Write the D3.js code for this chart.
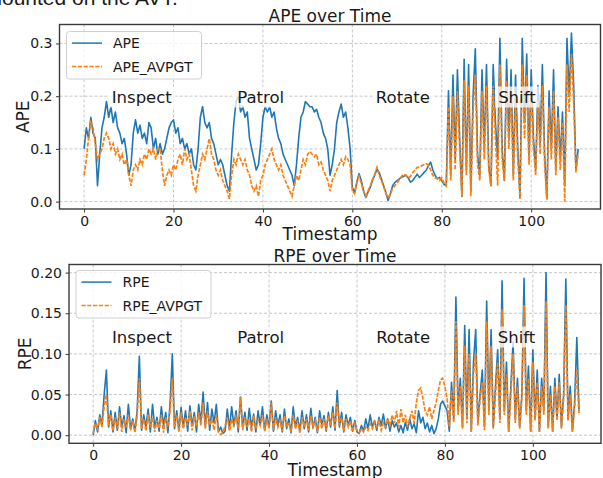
<!DOCTYPE html>
<meta charset="utf-8">
<style>
  body { margin: 0; background: #fff; }
  svg text { font-family: "DejaVu Sans", sans-serif; fill: #1a1a1a; }
</style>
<body>

<div id="chart"></div>

<script src="https://d3js.org/d3.v7.min.js"></script>

<script>

// ---- data (one sample every 0.5 s) ----
var timestamps = d3.range(0, 110.51, 0.5);

var ape = [
  0.10, 0.14, 0.12, 0.16, 0.13, 0.12, 0.03, 0.09, 0.14, 0.16,
  0.19, 0.16, 0.18, 0.15, 0.17, 0.14, 0.13, 0.11, 0.12, 0.09,
  0.05, 0.07, 0.13, 0.155, 0.13, 0.145, 0.12, 0.13, 0.11, 0.15,
  0.14, 0.10, 0.12, 0.09, 0.11, 0.09, 0.10, 0.12, 0.14, 0.15,
  0.155, 0.13, 0.14, 0.11, 0.12, 0.10, 0.11, 0.09, 0.10, 0.07,
  0.06, 0.10, 0.16, 0.18, 0.15, 0.14, 0.15, 0.12, 0.11, 0.09,
  0.07, 0.08, 0.07, 0.05, 0.03, 0.02, 0.09, 0.15, 0.19, 0.20,
  0.17, 0.18, 0.16, 0.17, 0.12, 0.10, 0.08, 0.06, 0.07, 0.11,
  0.16, 0.18, 0.17, 0.18, 0.16, 0.17, 0.14, 0.12, 0.11, 0.09,
  0.08, 0.07, 0.06, 0.05, 0.03, 0.07, 0.12, 0.16, 0.17, 0.19,
  0.185, 0.18, 0.18, 0.17, 0.175, 0.16, 0.15, 0.13, 0.12, 0.10,
  0.05, 0.07, 0.10, 0.15, 0.17, 0.185, 0.16, 0.17, 0.14, 0.10,
  0.027, 0.017, 0.037, 0.053, 0.04, 0.02, 0.008, 0.018, 0.027, 0.04,
  0.05, 0.062, 0.055, 0.043, 0.03, 0.017, 0.002, 0.015, 0.03, 0.036,
  0.04, 0.043, 0.046, 0.048, 0.05, 0.045, 0.037, 0.04, 0.046, 0.052,
  0.046, 0.05, 0.055, 0.059, 0.068, 0.075, 0.06, 0.05, 0.043, 0.046,
  0.04, 0.033, 0.03, 0.21, 0.05, 0.24, 0.08, 0.25, 0.12, 0.01,
  0.27, 0.06, 0.26, 0.02, 0.20, 0.29, 0.09, 0.05, 0.25, 0.10,
  0.26, 0.07, 0.03, 0.26, 0.15, 0.08, 0.31, 0.10, 0.04, 0.27,
  0.12, 0.25, 0.05, 0.24, 0.10, 0.01, 0.31, 0.15, 0.28, 0.08,
  0.25, 0.12, 0.06, 0.22, 0.11, 0.26, 0.09, 0.005, 0.21, 0.10,
  0.25, 0.06, 0.18, 0.08, 0.17, 0.03, 0.31, 0.20, 0.32, 0.22,
  0.06, 0.10
];

var apeAvpgt = [
  0.05, 0.08, 0.12, 0.15, 0.14, 0.11, 0.08, 0.09, 0.10, 0.12,
  0.13, 0.12, 0.10, 0.11, 0.09, 0.10, 0.08, 0.09, 0.07, 0.08,
  0.05, 0.03, 0.06, 0.07, 0.06, 0.08, 0.07, 0.09, 0.08, 0.10,
  0.09, 0.10, 0.08, 0.10, 0.10, 0.06, 0.03, 0.05, 0.06, 0.05,
  0.07, 0.06, 0.08, 0.09, 0.07, 0.10, 0.08, 0.09, 0.06, 0.03,
  0.02, 0.05, 0.07, 0.09, 0.08, 0.10, 0.12, 0.09, 0.08, 0.06,
  0.05, 0.06, 0.04, 0.03, 0.02, 0.005, 0.05, 0.08, 0.07, 0.09,
  0.08, 0.07, 0.08, 0.06, 0.05, 0.03, 0.02, 0.03, 0.01, 0.04,
  0.05, 0.07, 0.08, 0.09, 0.10, 0.08, 0.07, 0.06, 0.07, 0.05,
  0.04, 0.03, 0.02, 0.01, 0.03, 0.05, 0.04, 0.06, 0.08, 0.07,
  0.09, 0.095, 0.09, 0.085, 0.09, 0.07, 0.075, 0.06, 0.05, 0.04,
  0.02, 0.04, 0.05, 0.06, 0.07, 0.08, 0.07, 0.085, 0.08, 0.07,
  0.02, 0.015, 0.035, 0.048, 0.035, 0.02, 0.01, 0.02, 0.03, 0.042,
  0.052, 0.065, 0.05, 0.04, 0.028, 0.015, 0.008, 0.014, 0.025, 0.03,
  0.035, 0.042, 0.048, 0.052, 0.05, 0.045, 0.048, 0.055, 0.06, 0.065,
  0.065, 0.068, 0.07, 0.072, 0.07, 0.06, 0.05, 0.045, 0.045, 0.04,
  0.045, 0.035, 0.03, 0.18, 0.04, 0.20, 0.06, 0.21, 0.10, 0.01,
  0.23, 0.05, 0.22, 0.01, 0.17, 0.24, 0.07, 0.04, 0.21, 0.08,
  0.22, 0.06, 0.03, 0.22, 0.12, 0.03, 0.26, 0.08, 0.04, 0.23,
  0.10, 0.21, 0.04, 0.20, 0.08, 0.005, 0.26, 0.12, 0.24, 0.07,
  0.21, 0.10, 0.05, 0.19, 0.09, 0.22, 0.07, 0.005, 0.18, 0.08,
  0.21, 0.05, 0.16, 0.06, 0.15, 0.0, 0.26, 0.17, 0.28, 0.19,
  0.055, 0.09
];

var rpe = [
  0.0, 0.018, 0.004, 0.025, 0.012, 0.05, 0.08, 0.01, 0.03, 0.004,
  0.028, 0.006, 0.035, 0.01, 0.024, 0.003, 0.038, 0.008, 0.02, 0.005,
  0.03, 0.097, 0.006, 0.025, 0.01, 0.032, 0.004, 0.038, 0.009, 0.022,
  0.005, 0.035, 0.012, 0.028, 0.003, 0.04, 0.10, 0.008, 0.03, 0.006,
  0.034, 0.01, 0.03, 0.005, 0.036, 0.012, 0.028, 0.004, 0.038, 0.015,
  0.053, 0.01, 0.04, 0.006, 0.032, 0.015, 0.038, 0.004, 0.01, 0.002,
  0.005, 0.032, 0.008, 0.035, 0.012, 0.03, 0.004, 0.047, 0.01, 0.028,
  0.006, 0.033, 0.01, 0.026, 0.004, 0.03, 0.012, 0.035, 0.006, 0.025,
  0.01, 0.042, 0.005, 0.03, 0.012, 0.025, 0.004, 0.032, 0.008, 0.02,
  0.003, 0.035, 0.01, 0.022, 0.005, 0.03, 0.008, 0.025, 0.004, 0.033,
  0.009, 0.022, 0.003, 0.03, 0.012, 0.024, 0.005, 0.028, 0.01, 0.035,
  0.006, 0.055, 0.01, 0.028, 0.004, 0.025, 0.012, 0.022, 0.005, 0.018,
  0.004, 0.002, 0.012, 0.005, 0.02, 0.008, 0.025, 0.01, 0.018, 0.006,
  0.022, 0.012, 0.026, 0.008, 0.02, 0.005, 0.018, 0.01, 0.015, 0.004,
  0.012, 0.003, 0.016, 0.006, 0.02, 0.008, 0.014, 0.003, 0.03, 0.015,
  0.022, 0.008, 0.015, 0.004, 0.012, 0.002, 0.008, 0.02, 0.038, 0.042,
  0.036, 0.03, 0.005, 0.065, 0.02, 0.17, 0.03, 0.07, 0.01, 0.135,
  0.02, 0.13, 0.005, 0.09, 0.13, 0.015, 0.05, 0.08, 0.01, 0.165,
  0.03, 0.13, 0.01, 0.06, 0.105, 0.02, 0.19, 0.03, 0.09, 0.005,
  0.06, 0.115, 0.02, 0.07, 0.01, 0.05, 0.193, 0.03, 0.085, 0.005,
  0.105, 0.02, 0.08, 0.005, 0.07, 0.03, 0.20, 0.01, 0.06, 0.005,
  0.07, 0.02, 0.075, 0.01, 0.05, 0.192, 0.02, 0.06, 0.005, 0.04,
  0.12, 0.03
];

var rpeAvpgt = [
  0.002, 0.015, 0.006, 0.022, 0.01, 0.035, 0.05, 0.012, 0.025, 0.005,
  0.022, 0.008, 0.028, 0.004, 0.02, 0.01, 0.025, 0.006, 0.018, 0.003,
  0.024, 0.07, 0.008, 0.02, 0.005, 0.026, 0.01, 0.022, 0.004, 0.018,
  0.008, 0.025, 0.003, 0.022, 0.01, 0.03, 0.07, 0.01, 0.025, 0.004,
  0.028, 0.008, 0.022, 0.012, 0.03, 0.006, 0.024, 0.01, 0.028, 0.012,
  0.04, 0.008, 0.03, 0.012, 0.02, 0.006, 0.025, 0.004, 0.001, 0.003,
  0.012, 0.022, 0.005, 0.02, 0.01, 0.025, 0.008, 0.047, 0.006, 0.022,
  0.01, 0.02, 0.004, 0.024, 0.008, 0.018, 0.012, 0.025, 0.005, 0.02,
  0.008, 0.04, 0.006, 0.022, 0.01, 0.018, 0.005, 0.024, 0.01, 0.016,
  0.004, 0.025, 0.008, 0.018, 0.003, 0.022, 0.01, 0.02, 0.006, 0.024,
  0.01, 0.018, 0.004, 0.022, 0.008, 0.02, 0.006, 0.024, 0.012, 0.028,
  0.008, 0.04, 0.012, 0.022, 0.005, 0.02, 0.01, 0.018, 0.004, 0.014,
  0.006, 0.003, 0.008, 0.004, 0.01, 0.006, 0.014, 0.008, 0.016, 0.01,
  0.018, 0.006, 0.015, 0.01, 0.02, 0.012, 0.025, 0.015, 0.03, 0.01,
  0.032, 0.015, 0.025, 0.01, 0.02, 0.03, 0.015, 0.04, 0.055, 0.058,
  0.045, 0.03, 0.025, 0.035, 0.02, 0.03, 0.04, 0.055, 0.068, 0.07,
  0.06, 0.045, 0.01, 0.055, 0.015, 0.14, 0.025, 0.06, 0.008, 0.11,
  0.015, 0.10, 0.004, 0.075, 0.10, 0.012, 0.045, 0.065, 0.006, 0.14,
  0.025, 0.11, 0.008, 0.05, 0.09, 0.015, 0.155, 0.025, 0.075, 0.004,
  0.05, 0.10, 0.015, 0.06, 0.008, 0.045, 0.16, 0.025, 0.07, 0.004,
  0.09, 0.018, 0.065, 0.004, 0.06, 0.025, 0.165, 0.008, 0.05, 0.004,
  0.06, 0.018, 0.065, 0.008, 0.045, 0.16, 0.018, 0.05, 0.004, 0.035,
  0.08, 0.025
];

var xTicks = [0, 20, 40, 60, 80, 100];
var apeTicks = [0.0, 0.1, 0.2, 0.3];
var rpeTicks = [0.00, 0.05, 0.10, 0.15, 0.20];
var phases = ["Inspect", "Patrol", "Rotate", "Shift"];

var blue = "#1f77b4", orange = "#ff7f0e";

var width = 603, height = 478;

var svg = d3.select("#chart").append("svg")
    .attr("width", width)
    .attr("height", height);

svg.append("rect").attr("width", width).attr("height", height).attr("fill", "#fff");

// leftover line of the paper's body text, cut by the top edge
svg.append("text")
    .attr("x", -15.5)
    .attr("y", 5)
    .style("font-family", "'Liberation Sans', Arial, sans-serif")
    .style("font-size", "21px")
    .text("mounted on the AVT.");

function drawPanel(p) {
  var x = d3.scaleLinear().domain([-5.5, 115.5]).range([p.left, p.right]);
  var y = d3.scaleLinear().domain(p.yDomain).range([p.bottom, p.top]);
  var g = svg.append("g");

  // grid
  g.selectAll(".vgrid").data(xTicks).enter().append("line")
      .attr("x1", function(d) { return x(d); }).attr("x2", function(d) { return x(d); })
      .attr("y1", p.top).attr("y2", p.bottom)
      .attr("stroke", "#b9b9b9").attr("stroke-width", 0.8).attr("stroke-dasharray", "3,2");
  g.selectAll(".hgrid").data(p.yTicks).enter().append("line")
      .attr("y1", function(d) { return y(d); }).attr("y2", function(d) { return y(d); })
      .attr("x1", p.left).attr("x2", p.right)
      .attr("stroke", "#b9b9b9").attr("stroke-width", 0.8).attr("stroke-dasharray", "3,2");

  var line = d3.line()
      .x(function(d, i) { return x(timestamps[i]); })
      .y(function(d) { return y(d); });

  g.append("path").datum(p.series[0])
      .attr("fill", "none").attr("stroke", blue).attr("stroke-width", 1.6)
      .attr("stroke-linejoin", "round")
      .attr("d", line);
  g.append("path").datum(p.series[1])
      .attr("fill", "none").attr("stroke", orange).attr("stroke-width", 1.7)
      .attr("stroke-dasharray", "4.2,1.6")
      .attr("d", line);

  // phase labels with a light box behind them
  phases.forEach(function(name, i) {
    var t = g.append("text")
        .attr("x", x(p.phaseX[i]))
        .attr("y", p.phaseY)
        .attr("text-anchor", "middle")
        .style("font-size", "16.5px")
        .text(name);
    var bb = t.node().getBBox();
    g.insert("rect", function() { return t.node(); })
        .attr("x", bb.x - 3).attr("y", bb.y - 1)
        .attr("width", bb.width + 6).attr("height", bb.height + 2)
        .attr("fill", "#fff").attr("fill-opacity", 0.75);
  });

  // legend
  var lg = g.append("g").attr("transform", "translate(" + p.legend[0] + "," + p.legend[1] + ")");
  lg.append("rect")
      .attr("width", 135).attr("height", 47.5).attr("rx", 3)
      .attr("fill", "#fff").attr("fill-opacity", 0.8)
      .attr("stroke", "#d0d0d0").attr("stroke-width", 1);
  [blue, orange].forEach(function(c, i) {
    var ly = 11.6 + i * 23.4;
    lg.append("line")
        .attr("x1", 5.5).attr("x2", 35.5).attr("y1", ly).attr("y2", ly)
        .attr("stroke", c).attr("stroke-width", 1.5)
        .attr("stroke-dasharray", i ? "4.2,1.6" : null);
    lg.append("text")
        .attr("x", 46.5).attr("y", ly + 5)
        .style("font-size", "14px")
        .text(p.names[i]);
  });

  // frame
  g.append("rect")
      .attr("x", p.left).attr("y", p.top)
      .attr("width", p.right - p.left).attr("height", p.bottom - p.top)
      .attr("fill", "none").attr("stroke", "#3a3a3a").attr("stroke-width", 1.4);

  // axes
  var xAxis = g.append("g")
      .attr("transform", "translate(0," + p.bottom + ")")
      .call(d3.axisBottom(x).tickValues(xTicks).tickSize(3.5).tickPadding(3.5));
  var yAxis = g.append("g")
      .attr("transform", "translate(" + p.left + ",0)")
      .call(d3.axisLeft(y).tickValues(p.yTicks).tickFormat(p.fmt).tickSize(3.5).tickPadding(3.5));
  [xAxis, yAxis].forEach(function(a) {
    a.select(".domain").remove();
    a.selectAll("line").attr("stroke", "#3a3a3a").attr("stroke-width", 1);
    a.selectAll("text").style("font-size", "14px").style("font-family", "'DejaVu Sans', sans-serif").attr("fill", "#1a1a1a");
  });

  // titles
  g.append("text")
      .attr("x", (p.left + p.right) / 2).attr("y", p.top - 3)
      .attr("text-anchor", "middle")
      .style("font-size", "17px")
      .text(p.title);
  g.append("text")
      .attr("x", (p.left + p.right) / 2).attr("y", p.xLabelY)
      .attr("text-anchor", "middle")
      .style("font-size", "17px")
      .text("Timestamp");
  g.append("text")
      .attr("transform", "translate(" + p.yLabelX + "," + ((p.top + p.bottom) / 2) + ") rotate(-90)")
      .attr("text-anchor", "middle")
      .style("font-size", "17px")
      .text(p.yLabel);
}

drawPanel({
  left: 59.5, right: 600.5, top: 24.5, bottom: 209,
  yDomain: [-0.014, 0.336], yTicks: apeTicks, fmt: d3.format(".1f"),
  series: [ape, apeAvpgt], names: ["APE", "APE_AVPGT"],
  title: "APE over Time", yLabel: "APE", yLabelX: 29, xLabelY: 240,
  legend: [66.5, 31.5],
  phaseX: [12.9, 39.5, 71.3, 96.8], phaseY: 102.5
});

drawPanel({
  left: 69, right: 601, top: 264.5, bottom: 443.3,
  yDomain: [-0.01, 0.21], yTicks: rpeTicks, fmt: d3.format(".2f"),
  series: [rpe, rpeAvpgt], names: ["RPE", "RPE_AVPGT"],
  title: "RPE over Time", yLabel: "RPE", yLabelX: 31, xLabelY: 476,
  legend: [76, 270.5],
  phaseX: [11.1, 38.1, 70.5, 96.3], phaseY: 342.5
});

</script>

</body>
